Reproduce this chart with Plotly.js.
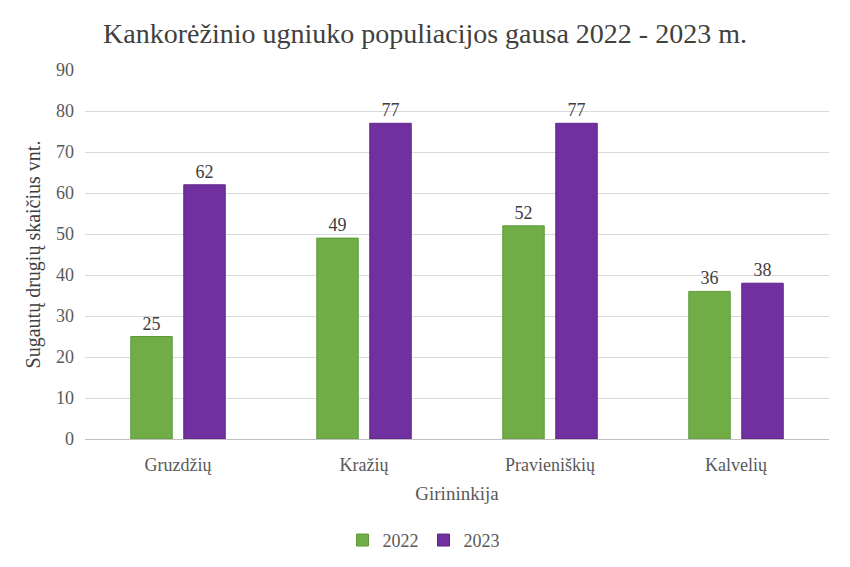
<!DOCTYPE html>
<html>
<head>
<meta charset="utf-8">
<script src="https://cdn.plot.ly/plotly-3.0.1.min.js"></script>
<style>
html,body{margin:0;padding:0;background:#fff;}
#chart{width:850px;height:567px;}
#chart text{font-family:'Liberation Serif','Times New Roman',serif !important;}
</style>
</head>
<body>
<div id="chart"></div>
<script>
const categories = ["Gruzdžių", "Kražių", "Pravieniškių", "Kalvelių"];
const values2022 = [25, 49, 52, 36];
const values2023 = [62, 77, 77, 38];
const seriesNames = ["2022", "2023"];

const serif = "Liberation Serif";
const traces = [
  {type: "bar", name: seriesNames[0], x: categories, y: values2022,
   marker: {color: "#70AD47", line: {color: "#5E9A3A", width: 1}},
   text: values2022.map(String), textposition: "outside", cliponaxis: false,
   textfont: {family: serif, size: 18, color: "#404040"}},
  {type: "bar", name: seriesNames[1], x: categories, y: values2023,
   marker: {color: "#7030A0", line: {color: "#5E2588", width: 1}},
   text: values2023.map(String), textposition: "outside", cliponaxis: false,
   textfont: {family: serif, size: 18, color: "#404040"}}
];
const layout = {
  width: 850, height: 567,
  margin: {l: 85, r: 21, t: 70, b: 128, autoexpand: false},
  paper_bgcolor: "#fff", plot_bgcolor: "#fff",
  font: {family: serif, color: "#595959"},
  title: {text: "Kankorėžinio ugniuko populiacijos gausa 2022 - 2023 m.",
          font: {family: serif, size: 28, color: "#404040"},
          x: 0.5, xanchor: "center", y: 0.942, yanchor: "middle"},
  barmode: "group", bargap: 0.43, bargroupgap: 0.218,
  xaxis: {showgrid: false, showline: true, linecolor: "#BFBFBF", linewidth: 1, automargin: false,
          ticks: "", ticklabelstandoff: 9, tickfont: {family: serif, size: 18, color: "#595959"},
          title: {text: "Girininkija", font: {family: serif, size: 19, color: "#595959"}, standoff: 13}},
  yaxis: {range: [0, 90], dtick: 10, showgrid: true, gridcolor: "#D9D9D9", gridwidth: 1, automargin: false,
          zeroline: false, showline: false, ticks: "", ticklen: 0, ticklabelstandoff: 10,
          tickfont: {family: serif, size: 18, color: "#595959"},
          title: {text: "Sugautų drugių skaičius vnt.", font: {family: serif, size: 20, color: "#404040"}, standoff: 10}},
  legend: {orientation: "h", x: 0.455, xanchor: "center", yref: "container", y: 0.047, yanchor: "middle",
           font: {family: serif, size: 18, color: "#595959"}, itemwidth: 30, traceorder: "normal"},
  showlegend: true
};
Plotly.newPlot("chart", traces, layout, {displayModeBar: false, staticPlot: true});
</script>
</body>
</html>
